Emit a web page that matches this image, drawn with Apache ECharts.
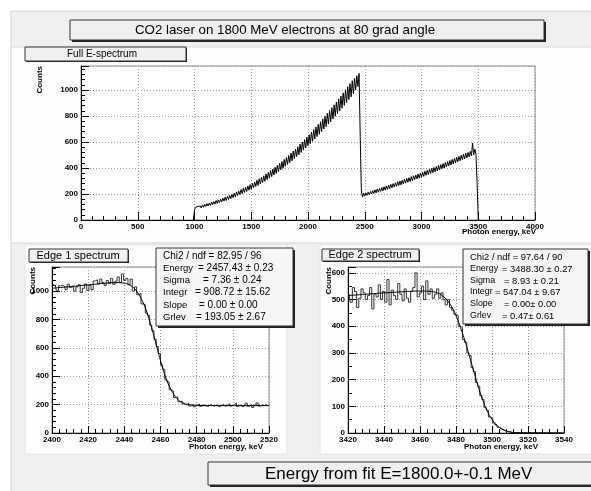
<!DOCTYPE html>
<html>
<head>
<meta charset="utf-8">
<script src="https://cdn.jsdelivr.net/npm/echarts@6/dist/echarts.min.js"></script>
<style>
  body { margin: 0; background: #fff; }
  #chart { width: 591px; height: 491px; }
</style>
</head>
<body>
<div id="chart"></div>
<script>
// full spectrum, 10 keV bins starting at 990 keV
const topFirstBin = 990
const topBinWidth = 10
const topCounts = [
  0,
  78, 98, 84, 104, 90, 108, 92, 116, 98, 120,
  104, 126, 108, 130, 112, 138, 118, 142, 122, 150,
  128, 154, 134, 160, 140, 168, 146, 176, 150, 182,
  158, 190, 164, 198, 172, 206, 178, 216, 188, 222,
  196, 234, 202, 244, 212, 252, 220, 262, 230, 272,
  238, 282, 248, 292, 258, 306, 266, 318, 278, 328,
  288, 340, 298, 354, 310, 366, 322, 380, 334, 392,
  346, 406, 358, 420, 372, 436, 386, 450, 398, 466,
  414, 480, 428, 496, 442, 514, 456, 530, 472, 546,
  488, 564, 502, 584, 520, 600, 538, 618, 554, 638,
  572, 656, 588, 676, 606, 696, 624, 716, 642, 736,
  660, 756, 680, 778, 700, 798, 718, 822, 738, 842,
  756, 864, 778, 886, 798, 908, 818, 932, 840, 954,
  860, 978, 882, 1002, 904, 1026, 926, 1050, 948, 1072,
  972, 1090, 1000, 1110, 1028, 1128, 640, 230,
  176, 206, 184, 208, 190, 214, 194, 220, 200, 226,
  204, 232, 208, 238, 214, 242, 220, 250, 224, 256,
  230, 262, 236, 268, 242, 274, 248, 280, 254, 286,
  260, 294, 266, 300, 270, 306, 278, 312, 284, 320,
  290, 326, 296, 334, 302, 340, 310, 346, 316, 354,
  322, 362, 330, 368, 336, 376, 344, 382, 350, 390,
  358, 398, 364, 404, 372, 412, 378, 420, 386, 426,
  394, 434, 400, 442, 408, 450, 416, 458, 424, 466,
  432, 474, 440, 482, 448, 490, 456, 498, 464, 506,
  470, 514, 478, 520, 486, 528, 494, 592, 500, 545,
  505, 280, 0, 0
]

// edge 1 spectrum, 1.2 keV bins from 2400 keV
const edge1Start = 2400
const edge1BinWidth = 1.2
const edge1Counts = [
  1045, 1040, 1005, 1038, 1042, 1030, 1010, 1048, 1025, 1035,
  1000, 1030, 1045, 990, 1020, 1050, 1005, 1040, 1010, 1072,
  1080, 1050, 1085, 1060, 1040, 1075, 1055, 1090, 1048, 1070,
  1100, 1060, 1120, 1075, 1090, 1045, 1085, 1000, 1030, 975,
  985, 910, 905, 845, 830, 760, 720, 660, 610, 560,
  480, 450, 375, 360, 305, 295, 250, 255, 220, 225,
  205, 198, 210, 190, 200, 185, 196, 204, 188, 198,
  192, 186, 200, 194, 190, 198, 185, 192, 202, 188,
  196, 206, 190, 200, 212, 188, 196, 184, 194, 210,
  188, 200, 180, 196, 212, 190, 198, 194, 200, 192
]
const edge1FitE = [2400, 2410, 2420, 2430, 2435, 2440, 2442.5, 2445, 2447.5, 2450, 2452.5, 2455, 2457.5, 2460, 2462.5, 2465, 2467.5, 2470, 2472.5, 2475, 2480, 2490, 2520]
const edge1FitY = [1020, 1032, 1044, 1056, 1060, 1056, 1046, 1025, 987, 930, 850, 745, 630, 510, 405, 327, 270, 232, 212, 201, 195, 193, 193]

// edge 2 spectrum, 1.2 keV bins from 3420 keV
const edge2Start = 3420
const edge2BinWidth = 1.2
const edge2Counts = [
  520, 490, 545, 530, 470, 505, 540, 525, 500, 515,
  545, 465, 520, 510, 555, 500, 530, 490, 575, 480,
  535, 515, 500, 560, 520, 495, 540, 505, 490, 530,
  545, 600, 510, 525, 550, 500, 570, 520, 540, 505,
  520, 540, 505, 525, 500, 480, 500, 470, 460, 445,
  440, 400, 395, 350, 340, 300, 290, 245, 230, 190,
  175, 140, 125, 95, 85, 60, 55, 38, 30, 22,
  16, 12, 8, 6, 4, 2, 2, 0, 0, 0,
  0, 0, 0, 0, 0, 0, 0, 0, 0, 0,
  0, 0, 0, 0, 0, 0, 0, 0, 0, 0
]
const edge2FitE = [3420, 3430, 3440, 3450, 3460, 3465, 3470, 3472.5, 3475, 3477.5, 3480, 3482.5, 3485, 3487.5, 3490, 3492.5, 3495, 3497.5, 3500, 3502.5, 3505, 3507.5, 3510, 3515, 3540]
const edge2FitY = [515, 520, 525, 529, 532, 531, 524, 514, 498, 474, 440, 395, 345, 287, 228, 171, 121, 80, 51, 30, 17, 9, 4, 1, 0]

// fit result boxes
const statLabels = ['Energy', 'Sigma', 'Integr', 'Slope', 'Grlev']
const edge1Chi = 'Chi2 / ndf = 82.95 / 96'
const edge1Stats = ['= 2457.43 \u00b1 0.23', '= 7.36 \u00b1 0.24', '= 908.72 \u00b1 15.62', '= 0.00 \u00b1 0.00', '= 193.05 \u00b1 2.67']
const edge2Chi = 'Chi2 / ndf = 97.64 / 90'
const edge2Stats = ['= 3488.30 \u00b1 0.27', '= 8.93 \u00b1 0.21', '= 547.04 \u00b1 9.67', '= 0.00\u00b1 0.00', '= 0.47\u00b1 0.61']

const titleText = 'CO2 laser on 1800 MeV electrons at 80 grad angle'
const resultText = 'Energy from fit E=1800.0+-0.1 MeV'

const FONT = 'Liberation Sans, Arial, sans-serif'

const topData = topCounts.map((v, i) => [topFirstBin + i * topBinWidth, v])
const edge1Hist = edge1Counts.map((v, i) => [edge1Start + (i + 0.5) * edge1BinWidth, v])
const edge2Hist = edge2Counts.map((v, i) => [edge2Start + (i + 0.5) * edge2BinWidth, v])
const edge1Fit = edge1FitE.map((e, i) => [e, edge1FitY[i]])
const edge2Fit = edge2FitE.map((e, i) => [e, edge2FitY[i]])

const plain = v => String(v)

function xAxis(grid, min, max, interval, majorLen) {
    return {
        type: 'value', gridIndex: grid, min: min, max: max, interval: interval,
        axisLine: { show: true, lineStyle: { color: '#000', width: 1 } },
        axisTick: { show: true, inside: true, length: majorLen, lineStyle: { color: '#000' } },
        minorTick: { show: true, splitNumber: 5, length: 4, lineStyle: { color: '#000' } },
        splitLine: { show: true, lineStyle: { color: '#999', type: [1, 2], width: 1 } },
        axisLabel: { fontSize: 8, fontWeight: 'bold', fontFamily: FONT, color: '#000', margin: 3, formatter: plain }
    }
}
function yAxis(grid, max, interval, minorSplit) {
    return {
        type: 'value', gridIndex: grid, min: 0, max: max, interval: interval,
        axisLine: { show: true, lineStyle: { color: '#000', width: 1 } },
        axisTick: { show: true, inside: true, length: 8, lineStyle: { color: '#000' } },
        minorTick: { show: true, splitNumber: minorSplit, length: 4, lineStyle: { color: '#000' } },
        splitLine: { show: true, lineStyle: { color: '#999', type: [1, 2], width: 1 } },
        axisLabel: { fontSize: 8, fontWeight: 'bold', fontFamily: FONT, color: '#000', margin: 3, showMaxLabel: false, formatter: plain }
    }
}
const gridStyle = { show: true, borderColor: '#8c8c8c', borderWidth: 1, backgroundColor: '#fff', outerBoundsMode: 'none' }

// decorative boxes, labels
function rect(x, y, w, h, fill, stroke, z) {
    return { type: 'rect', z: z, shape: { x: x, y: y, width: w, height: h }, style: { fill: fill, stroke: stroke, lineWidth: 1 } }
}
function pave(x, y, w, h, fill, shadow) {
    return [
        rect(x + shadow, y + shadow, w, h, '#222', null, 50),
        rect(x, y, w, h, fill, '#333', 51)
    ]
}
function text(x, y, str, size, align, bold) {
    return {
        type: 'text', z: 60, x: x, y: y,
        style: { text: str, fill: '#000', fontSize: size, fontWeight: bold ? 'bold' : 'normal', fontFamily: FONT, align: align, verticalAlign: 'middle' }
    }
}
function vtext(x, y, str) {
    return { type: 'text', z: 60, x: x, y: y, rotation: Math.PI / 2,
        style: { text: str, fill: '#000', fontSize: 8, fontWeight: 'bold', fontFamily: FONT, align: 'right', verticalAlign: 'middle' } }
}
function statBox(x, y, w, h, chi, vals, labelX, valX, lineY, size) {
    const els = pave(x, y, w, h, '#f6f6f6', 2)
    els.push(text(labelX, lineY[0], chi, size, 'left'))
    statLabels.forEach((l, i) => {
        els.push(text(labelX, lineY[i + 1], l, size - 0.5, 'left'))
        els.push(text(valX[i], lineY[i + 1], vals[i], size, 'left'))
    })
    return els
}

const graphics = [].concat(
    [
        rect(11, 11, 640, 540, '#efefef', '#d4d4d4', -20),
        rect(11, 47, 640, 196, '#fdfdfd', '#d8d8d8', -10),
        rect(25, 245, 262, 209, '#fdfdfd', '#e4e4e4', -10),
        rect(320, 245, 300, 209, '#fdfdfd', '#e4e4e4', -10)
    ],
    pave(70, 20, 474, 20, '#efefef', 2),
    [text(285, 30, titleText, 13.3, 'center')],
    pave(25, 47, 161, 14, '#f0f0f0', 1),
    [text(102, 54, 'Full E-spectrum', 10, 'center')],
    pave(29, 249, 99, 13, '#f0f0f0', 1),
    [text(78, 255.5, 'Edge 1 spectrum', 11, 'center')],
    pave(322, 249, 97, 12, '#f0f0f0', 1),
    [text(370, 255, 'Edge 2 spectrum', 11, 'center')],
    statBox(156, 248, 137, 78, edge1Chi, edge1Stats, 163, [198, 203, 195, 199, 196], [256, 268, 280, 292, 305, 317], 10),
    statBox(463, 249, 125, 75, edge2Chi, edge2Stats, 470, [502, 504, 495, 504, 502], [257, 269, 281, 292, 304, 316], 9.4),
    pave(208, 462, 420, 23, '#efefef', 2),
    [text(265, 474, resultText, 17, 'left')],
    [
        vtext(40, 66, 'Counts'),
        vtext(33, 267, 'Counts'),
        vtext(329, 267, 'Counts'),
        text(536, 232, 'Photon energy, keV', 8, 'right', true),
        text(263, 447, 'Photon energy, keV', 8, 'right', true),
        text(538, 447, 'Photon energy, keV', 8, 'right', true)
    ]
)

const chart = echarts.init(document.getElementById('chart'))
chart.setOption({
    animation: false,
    backgroundColor: '#fff',
    grid: [
        Object.assign({ left: 81, top: 66, width: 454, height: 154 }, gridStyle),
        Object.assign({ left: 52, top: 267, width: 217, height: 166 }, gridStyle),
        Object.assign({ left: 348, top: 267, width: 216, height: 166 }, gridStyle)
    ],
    xAxis: [
        xAxis(0, 0, 4000, 500, 8),
        xAxis(1, 2400, 2520, 20, 7),
        xAxis(2, 3420, 3540, 20, 7)
    ],
    yAxis: [
        yAxis(0, 1185, 200, 5),
        yAxis(1, 1170, 200, 5),
        yAxis(2, 622, 100, 2)
    ],
    graphic: graphics,
    series: [
        { type: 'line', xAxisIndex: 0, yAxisIndex: 0, data: topData, showSymbol: false, lineStyle: { color: '#000', width: 1 } },
        { type: 'line', xAxisIndex: 1, yAxisIndex: 1, data: edge1Hist, step: 'middle', showSymbol: false, lineStyle: { color: '#333', width: 1 } },
        { type: 'line', xAxisIndex: 1, yAxisIndex: 1, data: edge1Fit, smooth: true, showSymbol: false, lineStyle: { color: '#000', width: 1 } },
        { type: 'line', xAxisIndex: 2, yAxisIndex: 2, data: edge2Hist, step: 'middle', showSymbol: false, lineStyle: { color: '#333', width: 1 } },
        { type: 'line', xAxisIndex: 2, yAxisIndex: 2, data: edge2Fit, smooth: true, showSymbol: false, lineStyle: { color: '#000', width: 1 } }
    ]
})
</script>
</body>
</html>
